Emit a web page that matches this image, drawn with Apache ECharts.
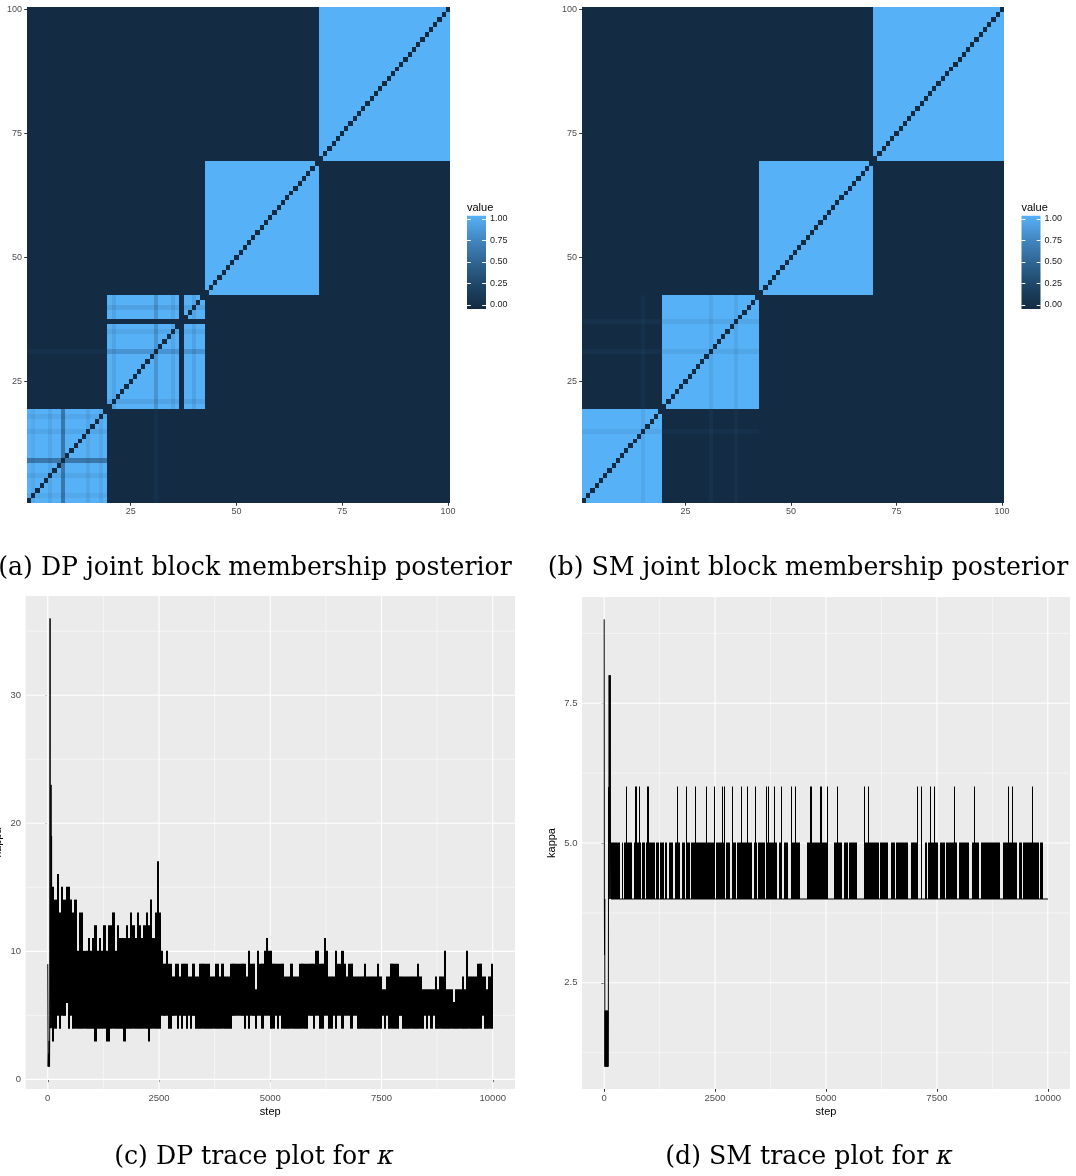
<!DOCTYPE html>
<html>
<head>
<meta charset="utf-8">
<script src="https://cdn.jsdelivr.net/npm/echarts@6/dist/echarts.min.js"></script>
<style>
  html, body { margin: 0; padding: 0; background: #ffffff; }
  #chart { width: 1076px; height: 1176px; }
</style>
</head>
<body>
<div id="chart"></div>
<script>
// ---------------- data ----------------
const nodeCount = 100;
const nodeLabels = Array.from({ length: nodeCount }, (_, i) => String(i + 1));
const heatTickNodes = [25, 50, 75, 100];

// last node of each block (blocks are contiguous runs of nodes)
const blockEnds = [19, 42, 69, 100];

// DP posterior: nodes that are not always with their own block, and how strongly they stay
const dpWeakNodes  = [2, 6, 9, 15, 18, 21, 31, 35, 37, 40];
const dpWeakLevels = [0.95, 0.93, 0.62, 0.93, 0.94, 0.92, 0.82, 0.93, 0.02, 0.91];
// DP posterior: nodes that sometimes sit in another block (block number, share)
const dpMoveNodes  = [31];
const dpMoveBlocks = [1];
const dpMoveLevels = [0.05];

// SM posterior
const smWeakNodes  = [15, 31, 37];
const smWeakLevels = [0.94, 0.93, 0.93];
const smMoveNodes  = [15, 31, 37];
const smMoveBlocks = [2, 1, 1];
const smMoveLevels = [0.05, 0.06, 0.06];

const legendTicks = [0, 0.25, 0.5, 0.75, 1];
const fillRamp = ['#132B43', '#1E4566', '#2F6592', '#4388C2', '#56B1F7'];

// trace plots
const stepTicks = [0, 2500, 5000, 7500, 10000];
const stepMinor = [1250, 3750, 6250, 8750];
const dpKappaTicks = [0, 10, 20, 30];
const dpKappaMinor = [5, 15, 25, 35];
const smKappaTicks = [2.5, 5.0, 7.5];
const smKappaMinor = [1.25, 3.75, 6.25, 8.75];

// DP kappa: burn-in steps, then min/max of kappa in each 50-step window
const dpEarlySteps = [0, 8, 16, 24, 32, 40, 46, 52, 56, 62, 68, 74, 80, 86, 92, 96, 100];
const dpEarlyKappa = [9, 1, 2, 1, 3, 1, 5, 36, 4, 14, 6, 23, 4, 19, 5, 12, 6];
const dpWindowStart = 100;
const dpWindow = 50;
const dpWindowHigh = [
  15,14,16,13,15,14,15,15,14,13,
  14,10,13,13,10,10,11,10,11,12,
  10,11,10,12,10,12,12,13,10,12,
  11,11,11,12,11,13,12,11,13,12,
  11,12,13,12,14,11,13,17,13,10,
  9,10,9,9,8,9,9,8,9,9,
  9,8,8,9,8,8,9,9,9,9,
  9,8,8,9,9,8,9,8,8,8,
  9,9,9,9,9,9,9,8,10,9,
  9,7,10,9,9,10,11,10,10,9,
  9,9,9,9,8,8,8,9,8,8,
  8,9,9,9,9,9,9,9,10,10,
  9,9,11,10,8,8,8,10,9,9,
  10,9,8,9,9,8,8,8,8,8,
  9,8,8,8,8,8,9,8,7,7,
  8,8,9,9,9,9,8,8,8,8,
  8,8,8,8,9,8,7,7,7,7,
  7,7,8,7,8,8,10,7,7,7,
  6,7,7,7,8,7,10,8,8,8,
  8,9,9,8,8,7,8,9
];
const dpWindowLow = [
  3,4,5,4,5,5,6,4,5,4,
  4,4,4,4,4,4,4,4,4,3,
  4,4,4,4,3,3,4,4,4,4,
  4,4,3,4,4,4,4,4,4,4,
  4,4,4,3,4,4,4,4,4,5,
  5,5,4,4,5,5,4,5,4,5,
  4,5,4,5,4,4,4,4,4,4,
  4,4,4,4,4,4,4,4,4,4,
  4,5,5,5,5,5,4,5,4,5,
  5,4,5,5,4,5,5,5,4,4,
  5,4,5,4,4,4,4,4,4,4,
  4,4,4,4,4,5,5,4,5,5,
  4,4,5,5,4,4,5,4,5,5,
  4,5,5,5,4,5,5,4,4,4,
  4,4,4,4,4,4,4,4,5,4,
  5,4,4,4,4,4,5,4,4,4,
  4,4,4,4,4,4,4,5,4,5,
  4,5,4,4,4,4,4,4,4,4,
  4,4,4,4,4,4,4,4,4,4,
  4,4,4,5,4,4,4,4
];

// SM kappa: burn-in steps, then switching between 4 and 5,
// with excursions to 6 and stretches that stay at 4
const smEarlySteps = [0, 4, 8, 12, 16, 22, 28, 34, 40, 46, 52, 58, 64, 70, 76, 82, 88, 94, 100, 106, 112, 118, 124, 130, 136, 142, 150];
const smEarlyKappa = [9, 4, 3, 4, 1, 2, 1, 2, 1, 2, 1, 2, 1, 2, 1, 2, 1, 2, 6, 4, 8, 5, 8, 4, 8, 5, 4];
const smSwitchStart = 150;
const smSwitchEnd = 10000;
const smWindow = 25;
const smLowKappa = 4;
const smHighKappa = 5;
const smPeakKappa = 6;
const smPeakSteps = [519, 705, 730, 778, 997, 1660, 1860, 2050, 2320, 2475, 2655, 2720, 2890, 3090,
  3240, 3400, 3665, 3720, 3830, 3990, 4215, 4300, 4665, 4890, 5040, 5250, 5865, 5960, 7063, 7161,
  7364, 7439, 7890, 8342, 9116, 9214, 9665];
const smStayLowRanges = [[354, 392], [430, 452], [617, 677], [768, 805], [820, 845], [918, 956],
  [1144, 1170], [1219, 1257], [1347, 1372], [1422, 1447], [1543, 1595], [1708, 1746], [1821, 1852],
  [1934, 1960], [2498, 2535], [2735, 2761], [2836, 2874], [2964, 3009], [3325, 3363], [3438, 3475],
  [3626, 3650], [3889, 3949], [4002, 4040], [4152, 4190], [4415, 4566], [5055, 5168], [5356, 5393],
  [5506, 5530], [5709, 5845], [6206, 6236], [6409, 6469], [6555, 6580], [6860, 6935], [7086, 7214],
  [7274, 7311], [7537, 7575], [7665, 7690], [7951, 7988], [8214, 8289], [8439, 8492], [8928, 9003],
  [9304, 9342], [9417, 9455], [9793, 9831], [9891, 10000]];

// ---------------- builders ----------------
function blockOf(n) { return blockEnds.findIndex(e => n <= e); }

function coclusterMatrix(weakNodes, weakLevels, moveNodes, moveBlocks, moveLevels) {
  const stay = new Array(nodeCount + 1).fill(1);
  const moveTo = new Array(nodeCount + 1).fill(-1);
  const moveShare = new Array(nodeCount + 1).fill(0);
  weakNodes.forEach((n, k) => { stay[n] = weakLevels[k]; });
  moveNodes.forEach((n, k) => { moveTo[n] = moveBlocks[k] - 1; moveShare[n] = moveLevels[k]; });
  const cells = [];
  for (let i = 1; i <= nodeCount; i++) {
    for (let j = 1; j <= nodeCount; j++) {
      const bi = blockOf(i), bj = blockOf(j);
      let v = 0;
      if (i === j) v = 0;
      else if (bi === bj) v = stay[i] * stay[j];
      else {
        if (moveTo[i] === bj) v += moveShare[i];
        if (moveTo[j] === bi) v += moveShare[j];
      }
      cells.push([i - 1, j - 1, Math.round(v * 1000) / 1000]);
    }
  }
  return cells;
}

// [from step, to step, lowest kappa, highest kappa] per window
function dpWindows() {
  return dpWindowHigh.map((h, b) => {
    const s = dpWindowStart + b * dpWindow;
    return [s, s + dpWindow, dpWindowLow[b], h];
  });
}
function smWindows() {
  const out = [];
  for (let s = smSwitchStart; s < smSwitchEnd; s += smWindow) {
    const mid = s + smWindow / 2;
    let top = smHighKappa;
    if (smStayLowRanges.some(r => mid >= r[0] && mid <= r[1])) top = smLowKappa;
    if (smPeakSteps.some(p => p >= s && p < s + smWindow)) top = smPeakKappa;
    out.push([s, s + smWindow, smLowKappa, top]);
  }
  return out;
}

function gridLineData(values, vertical, from, to) {
  const pts = [];
  values.forEach(v => {
    if (vertical) pts.push([v, from], [v, to]);
    else pts.push([from, v], [to, v]);
    pts.push(['-', '-']);
  });
  return pts;
}

// ---------------- option ----------------
const axisGrey = '#4D4D4D';
const tickGrey = '#333333';
const sans = '"Liberation Sans", Arial, Helvetica, sans-serif';
const everyQuarter = (i) => heatTickNodes.includes(i + 1);

function heatX(gi) {
  return {
    gridIndex: gi, type: 'category', data: nodeLabels,
    axisLine: { show: false },
    axisTick: { show: true, alignWithLabel: true, interval: everyQuarter, length: 2.75, lineStyle: { color: tickGrey, width: 1 } },
    axisLabel: { interval: everyQuarter, color: axisGrey, fontSize: 9, fontFamily: sans, margin: 4 },
    splitLine: { show: false }
  };
}
function heatY(gi) {
  return {
    gridIndex: gi, type: 'category', data: nodeLabels,
    axisLine: { show: false },
    axisTick: { show: true, alignWithLabel: true, interval: everyQuarter, length: 2.75, lineStyle: { color: tickGrey, width: 1 } },
    axisLabel: { interval: everyQuarter, color: axisGrey, fontSize: 9, fontFamily: sans, margin: 5 },
    splitLine: { show: false }
  };
}
function traceX(gi) {
  return {
    gridIndex: gi, type: 'value', min: -500, max: 10500,
    axisLine: { show: false },
    axisTick: { show: true, customValues: stepTicks, length: 2.75, lineStyle: { color: tickGrey, width: 1 } },
    axisLabel: { customValues: stepTicks, formatter: v => String(v), color: axisGrey, fontSize: 9.5, fontFamily: sans, margin: 4.5 },
    splitLine: { show: false },
    name: 'step', nameLocation: 'middle', nameGap: 17,
    nameTextStyle: { color: '#000', fontSize: 11, fontFamily: sans }
  };
}
function traceY(gi, ticks, min, max, fmt, gap) {
  return {
    gridIndex: gi, type: 'value', min: min, max: max,
    axisLine: { show: false },
    axisTick: { show: true, customValues: ticks, length: 2.75, lineStyle: { color: tickGrey, width: 1 } },
    axisLabel: { customValues: ticks, formatter: fmt, color: axisGrey, fontSize: 9.5, fontFamily: sans, margin: 4.5 },
    splitLine: { show: false },
    name: 'kappa', nameLocation: 'middle', nameGap: gap,
    nameTextStyle: { color: '#000', fontSize: 11, fontFamily: sans }
  };
}
function barGradient() {
  return new echarts.graphic.LinearGradient(0, 0, 0, 1,
    fillRamp.slice().reverse().map((c, k) => ({ offset: k / (fillRamp.length - 1), color: c })));
}
function legendAxes(gi) {
  const base = { gridIndex: gi, type: 'value', min: -0.0465, max: 1.038, axisLine: { show: false }, splitLine: { show: false } };
  return [
    Object.assign({}, base, {
      position: 'left',
      axisTick: { show: true, inside: true, customValues: legendTicks, length: 3.8, lineStyle: { color: '#ffffff', width: 1 } },
      axisLabel: { show: false },
      name: 'value', nameLocation: 'end', nameGap: 2,
      nameTextStyle: { align: 'left', verticalAlign: 'bottom', color: '#000', fontSize: 11, fontFamily: sans, padding: 0 }
    }),
    Object.assign({}, base, {
      position: 'right',
      axisTick: { show: true, inside: true, customValues: legendTicks, length: 3.8, lineStyle: { color: '#ffffff', width: 1 } },
      axisLabel: { customValues: legendTicks, formatter: v => v.toFixed(2), color: '#1A1A1A', fontSize: 9, fontFamily: sans, margin: 4 }
    })
  ];
}

const dpRange = { x: [-500, 10500], y: [-0.75, 37.75] };
const smRange = { x: [-500, 10500], y: [0.6, 9.4] };

function gridSeries(xi, yi, range, xVals, yVals, width) {
  return {
    type: 'line', xAxisIndex: xi, yAxisIndex: yi, z: 1, silent: true,
    symbol: 'none', connectNulls: false, animation: false,
    lineStyle: { color: '#ffffff', width: width },
    data: gridLineData(xVals, true, range.y[0], range.y[1]).concat(gridLineData(yVals, false, range.x[0], range.x[1]))
  };
}

// one cell per node pair, edges snapped to whole pixels so neighbours meet exactly
function heatSeries(xi, yi, cells) {
  return {
    type: 'custom', xAxisIndex: xi, yAxisIndex: yi, silent: true, progressive: 0,
    encode: { x: 0, y: 1 },
    renderItem: (params, api) => {
      const c = api.coord([api.value(0), api.value(1)]);
      const s = api.size([1, 1]);
      const x0 = Math.round(c[0] - s[0] / 2), x1 = Math.round(c[0] + s[0] / 2);
      const y0 = Math.round(c[1] - s[1] / 2), y1 = Math.round(c[1] + s[1] / 2);
      return { type: 'rect', shape: { x: x0, y: y0, width: x1 - x0, height: y1 - y0 }, style: { fill: api.visual('color') } };
    },
    data: cells
  };
}

// each window is drawn as the vertical span the trace covers within it,
// snapped to whole pixel columns and padded by half the line width
function windowSeries(xi, yi, windows) {
  return {
    type: 'custom', xAxisIndex: xi, yAxisIndex: yi, z: 3, silent: true, progressive: 0,
    encode: { x: [0, 1], y: [2, 3] },
    renderItem: (params, api) => {
      const a = api.coord([api.value(0), api.value(2)]);
      const b = api.coord([api.value(1), api.value(3)]);
      const x0 = Math.round(a[0]);
      const x1 = Math.max(x0 + 1, Math.round(b[0]));
      return { type: 'rect', shape: { x: x0, y: b[1] - 0.5, width: x1 - x0, height: a[1] - b[1] + 1 },
               style: { fill: '#000000' } };
    },
    data: windows
  };
}

function earlyLine(xi, yi, steps, vals) {
  return {
    type: 'line', xAxisIndex: xi, yAxisIndex: yi, z: 3, symbol: 'none', silent: true,
    lineStyle: { color: '#000000', width: 1 },
    data: steps.map((s, k) => [s, vals[k]])
  };
}

const serifFamily = '"DejaVu Serif", "Liberation Serif", serif';
const captionStyle = { fill: '#000', fontFamily: serifFamily, fontSize: 25.2, align: 'center', verticalAlign: 'middle',
  rich: { k: { fontFamily: serifFamily, fontSize: 25.2, fontStyle: 'italic' } } };

const option = {
  animation: false,
  backgroundColor: '#ffffff',
  grid: [
    { left: 27, top: 7, width: 423, height: 496, outerBoundsMode: 'none' },
    { left: 582, top: 7, width: 422, height: 496, outerBoundsMode: 'none' },
    { left: 25.5, top: 596, width: 489.5, height: 493, show: true, backgroundColor: '#EBEBEB', borderWidth: 0, outerBoundsMode: 'none' },
    { left: 582, top: 597, width: 488, height: 492, show: true, backgroundColor: '#EBEBEB', borderWidth: 0, outerBoundsMode: 'none' },
    { left: 467, top: 215.7, width: 19, height: 93.3, show: true, backgroundColor: barGradient(), borderWidth: 0, outerBoundsMode: 'none' },
    { left: 1021.5, top: 215.7, width: 19, height: 93.3, show: true, backgroundColor: barGradient(), borderWidth: 0, outerBoundsMode: 'none' }
  ],
  xAxis: [
    heatX(0), heatX(1), traceX(2), traceX(3),
    { gridIndex: 4, type: 'value', min: 0, max: 1, show: false },
    { gridIndex: 5, type: 'value', min: 0, max: 1, show: false }
  ],
  yAxis: [
    heatY(0), heatY(1),
    traceY(2, dpKappaTicks, dpRange.y[0], dpRange.y[1], v => String(v), 22.5),
    traceY(3, smKappaTicks, smRange.y[0], smRange.y[1], v => v.toFixed(1), 25)
  ].concat(legendAxes(4), legendAxes(5)),
  visualMap: [
    { type: 'continuous', show: false, min: 0, max: 1, dimension: 2, seriesIndex: 0, inRange: { color: fillRamp } },
    { type: 'continuous', show: false, min: 0, max: 1, dimension: 2, seriesIndex: 1, inRange: { color: fillRamp } }
  ],
  series: [
    heatSeries(0, 0, coclusterMatrix(dpWeakNodes, dpWeakLevels, dpMoveNodes, dpMoveBlocks, dpMoveLevels)),
    heatSeries(1, 1, coclusterMatrix(smWeakNodes, smWeakLevels, smMoveNodes, smMoveBlocks, smMoveLevels)),
    gridSeries(2, 2, dpRange, stepTicks, dpKappaTicks, 1.07),
    gridSeries(2, 2, dpRange, stepMinor, dpKappaMinor, 0.53),
    earlyLine(2, 2, dpEarlySteps, dpEarlyKappa),
    windowSeries(2, 2, dpWindows()),
    gridSeries(3, 3, smRange, stepTicks, smKappaTicks, 1.07),
    gridSeries(3, 3, smRange, stepMinor, smKappaMinor, 0.53),
    earlyLine(3, 3, smEarlySteps, smEarlyKappa),
    windowSeries(3, 3, smWindows())
  ],
  graphic: [
    { type: 'text', x: 255, y: 568, style: Object.assign({ text: '(a) DP joint block membership posterior' }, captionStyle) },
    { type: 'text', x: 808, y: 568, style: Object.assign({ text: '(b) SM joint block membership posterior' }, captionStyle) },
    { type: 'text', x: 254, y: 1157, style: Object.assign({ text: '(c) DP trace plot for {k|κ}' }, captionStyle) },
    { type: 'text', x: 809, y: 1157, style: Object.assign({ text: '(d) SM trace plot for {k|κ}' }, captionStyle) }
  ]
};

const chart = echarts.init(document.getElementById('chart'), null, { renderer: 'canvas' });
chart.setOption(option);
</script>
</body>
</html>
